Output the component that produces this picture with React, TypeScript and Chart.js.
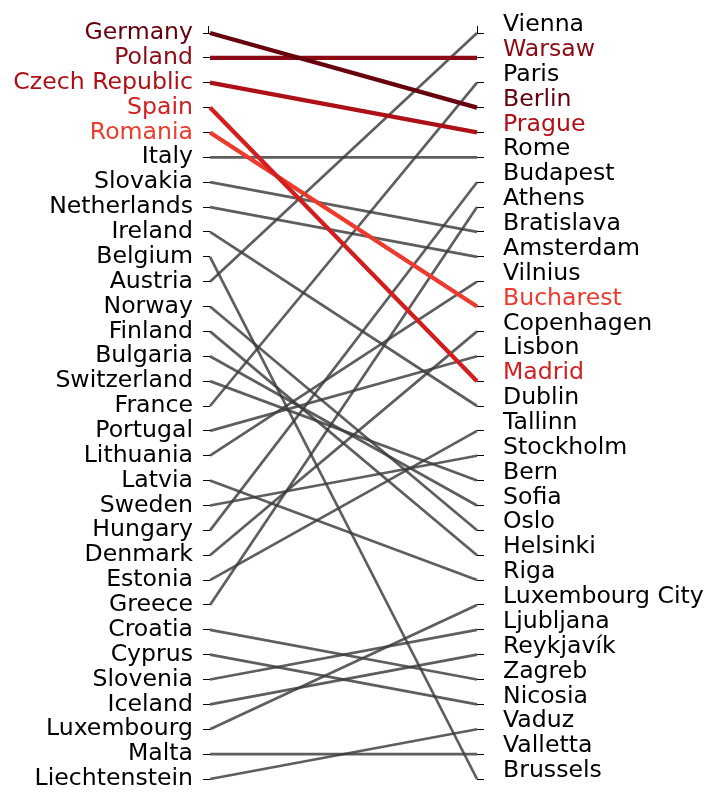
import React, { useEffect, useRef } from "react";
import { Chart, registerables } from "chart.js";

Chart.register(...registerables);

const countries = [
  "Germany", "Poland", "Czech Republic", "Spain", "Romania", "Italy", "Slovakia",
  "Netherlands", "Ireland", "Belgium", "Austria", "Norway", "Finland", "Bulgaria",
  "Switzerland", "France", "Portugal", "Lithuania", "Latvia", "Sweden", "Hungary",
  "Denmark", "Estonia", "Greece", "Croatia", "Cyprus", "Slovenia", "Iceland",
  "Luxembourg", "Malta", "Liechtenstein",
];

const capitalsOrder = [
  "Vienna", "Warsaw", "Paris", "Berlin", "Prague", "Rome", "Budapest", "Athens",
  "Bratislava", "Amsterdam", "Vilnius", "Bucharest", "Copenhagen", "Lisbon", "Madrid",
  "Dublin", "Tallinn", "Stockholm", "Bern", "Sofia", "Oslo", "Helsinki", "Riga",
  "Luxembourg City", "Ljubljana", "Reykjavík", "Zagreb", "Nicosia", "Vaduz",
  "Valletta", "Brussels",
];

const countryCapital = [
  "Berlin", "Warsaw", "Prague", "Madrid", "Bucharest", "Rome", "Bratislava",
  "Amsterdam", "Dublin", "Brussels", "Vienna", "Oslo", "Helsinki", "Sofia",
  "Bern", "Paris", "Lisbon", "Vilnius", "Riga", "Stockholm", "Budapest",
  "Copenhagen", "Tallinn", "Athens", "Zagreb", "Nicosia", "Ljubljana", "Reykjavík",
  "Luxembourg City", "Valletta", "Vaduz",
];

const highlighted = ["Germany", "Poland", "Czech Republic", "Spain", "Romania"];
const highlightColors = ["#67000d", "#8c0a13", "#ad1117", "#d11f20", "#ec3a2d"];

const grayColor = "rgba(58,58,58,0.82)";
const FONT = { family: "DejaVu Sans", size: 23.6 };

export default function App() {
  const ref = useRef<HTMLCanvasElement>(null);

  useEffect(() => {
    document.body.style.margin = "0";
    document.body.style.overflow = "hidden";
    const canvas = ref.current;
    if (!canvas) return;

    const colorOfCountry = (c: string) => {
      const i = highlighted.indexOf(c);
      return i >= 0 ? highlightColors[i] : null;
    };
    const capitalColor: Record<string, string> = {};
    countries.forEach((c, i) => {
      const col = colorOfCountry(c);
      if (col) capitalColor[countryCapital[i]] = col;
    });

    const datasets = countries.map((c, i) => {
      const col = colorOfCountry(c);
      const r = capitalsOrder.indexOf(countryCapital[i]) + 1;
      return {
        label: c,
        data: [
          { x: 0, y: i + 1 },
          { x: 1, y: r },
        ],
        borderColor: col || grayColor,
        borderWidth: col ? 4.3 : 2.7,
        pointRadius: 0,
        fill: false,
        clip: false as any,
        order: col ? 0 : 1,
      };
    });

    const spinePlugin = {
      id: "spineBits",
      afterDraw(chart: any) {
        const { ctx, chartArea } = chart;
        ctx.save();
        ctx.strokeStyle = "#000";
        ctx.lineWidth = 1;
        ctx.beginPath();
        ctx.moveTo(chartArea.left - 1.5, chartArea.top - 7);
        ctx.lineTo(chartArea.left - 1.5, chartArea.top);
        ctx.moveTo(chartArea.right + 0.5, chartArea.top - 7);
        ctx.lineTo(chartArea.right + 0.5, chartArea.top);
        ctx.stroke();
        ctx.restore();
      },
    };

    const ticks1to31 = (scale: any) => {
      scale.ticks = countries.map((_, i) => ({ value: i + 1 }));
    };
    const fitTo = (w: number) => (s: any) => {
      s.width = w;
      s.paddingTop = 0;
      s.paddingBottom = 0;
    };

    const chart = new Chart(canvas, {
      type: "line",
      data: { datasets: datasets as any },
      plugins: [spinePlugin],
      options: {
        responsive: false,
        animation: false,
        layout: { padding: { top: 33, bottom: 16, left: 0, right: 0 } },
        plugins: { legend: { display: false }, tooltip: { enabled: false } },
        scales: {
          x: { type: "linear", min: 0, max: 1, display: false },
          y: {
            type: "linear",
            position: "left",
            min: 1,
            max: 31,
            reverse: true,
            afterBuildTicks: ticks1to31,
            afterFit: fitTo(210),
            grid: { drawOnChartArea: false, drawTicks: true, tickLength: 7, color: "#000", lineWidth: 1 },
            border: { display: false },
            ticks: {
              autoSkip: false,
              padding: 10,
              font: FONT,
              color: (ctx: any) => colorOfCountry(countries[ctx.tick.value - 1]) || "#000",
              callback: (v: any) => countries[Number(v) - 1],
            },
          },
          y2: {
            type: "linear",
            position: "right",
            min: 1,
            max: 31,
            reverse: true,
            afterBuildTicks: ticks1to31,
            afterFit: fitTo(241),
            grid: { drawOnChartArea: false, drawTicks: true, tickLength: 7, color: "#000", lineWidth: 1 },
            border: { display: false },
            ticks: {
              autoSkip: false,
              padding: 19,
              labelOffset: -8,
              font: FONT,
              color: (ctx: any) => capitalColor[capitalsOrder[ctx.tick.value - 1]] || "#000",
              callback: (v: any) => capitalsOrder[Number(v) - 1],
            },
          },
        },
      } as any,
    });

    return () => chart.destroy();
  }, []);

  return <canvas ref={ref} width={718} height={795} style={{ display: "block" }} />;
}
